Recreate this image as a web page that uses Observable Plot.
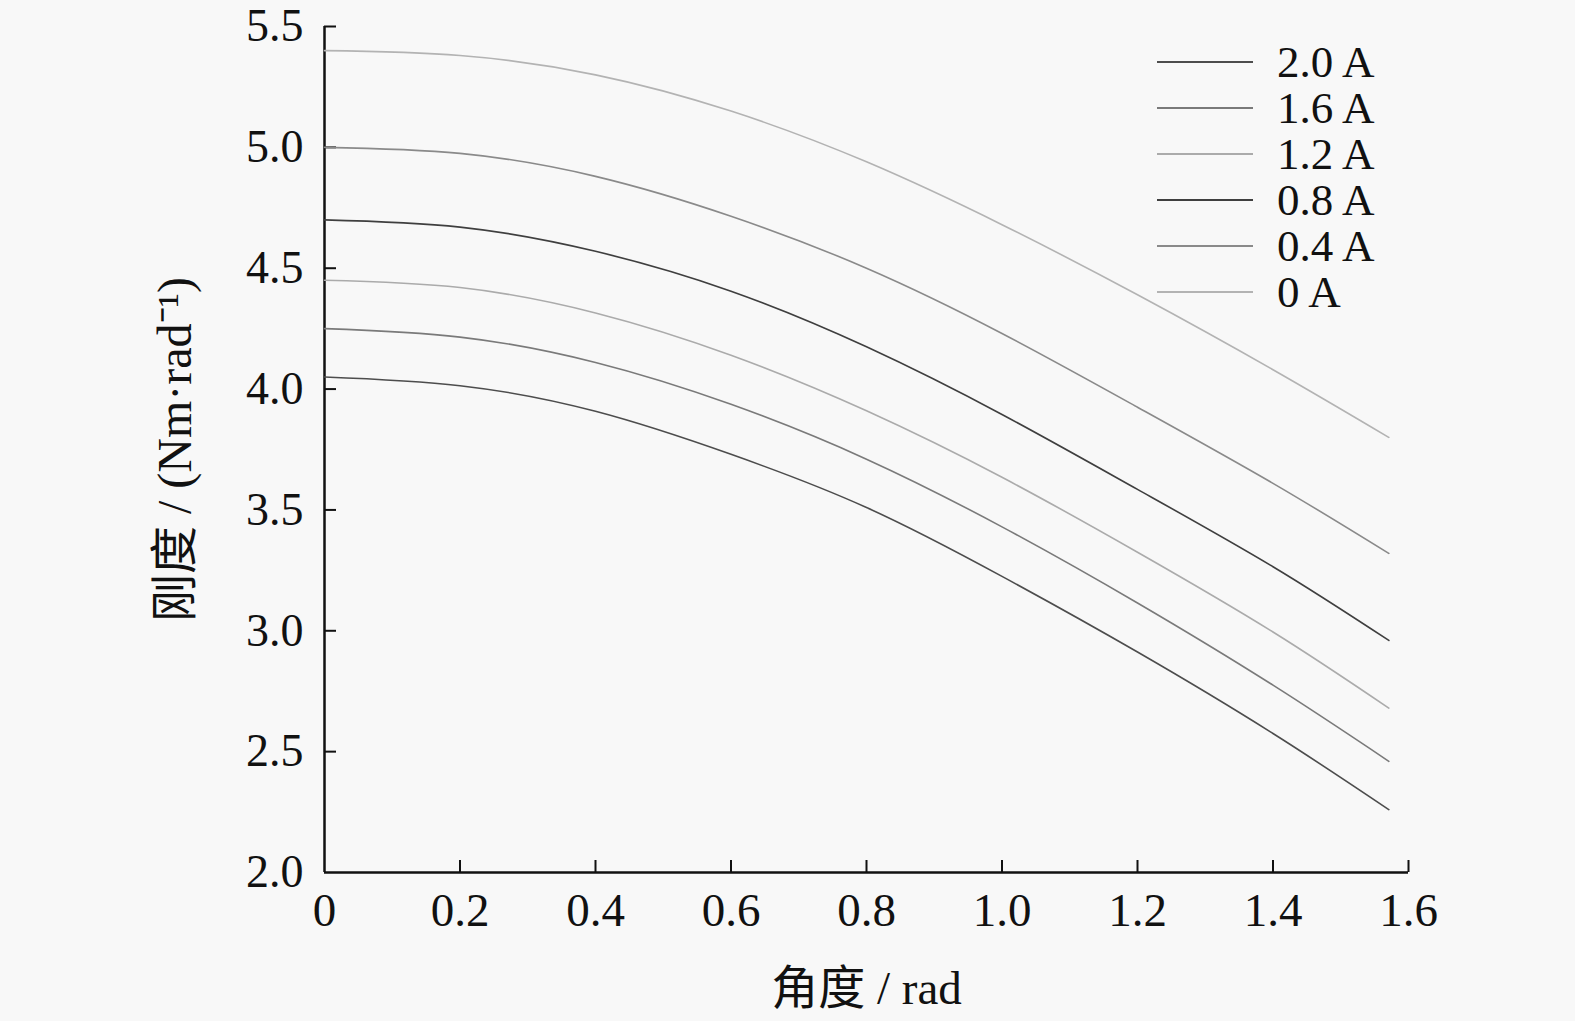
<!DOCTYPE html>
<html>
<head>
<meta charset="utf-8">
<script src="https://cdn.jsdelivr.net/npm/d3@7"></script>
<script src="https://cdn.jsdelivr.net/npm/@observablehq/plot@0.6"></script>
<style>
  html, body { margin: 0; padding: 0; background: #f8f8f8; }
  #wrap { position: relative; width: 1575px; height: 1021px; }
  #legend { position: absolute; left: 1157px; top: 39px; font-family: "Liberation Serif", "Noto Sans CJK SC", serif; font-size: 45px; line-height: 46px; color: #111; }
  .row { display: flex; align-items: center; height: 46px; }
  .sw { width: 96px; height: 0; border-top-style: solid; margin-right: 24px; }
</style>
</head>
<body>
<div id="wrap"><div id="legend"></div></div>
<script>
// angle (rad)
const angles = [0, 0.2, 0.4, 0.6, 0.8, 1.0, 1.2, 1.4, 1.571];
// stiffness (Nm/rad) for each coil current
const k_0A   = [5.40, 5.38, 5.30, 5.15, 4.94, 4.68, 4.39, 4.08, 3.80];
const k_04A  = [5.00, 4.975, 4.88, 4.715, 4.50, 4.23, 3.925, 3.61, 3.32];
const k_08A  = [4.70, 4.67, 4.57, 4.405, 4.175, 3.895, 3.585, 3.265, 2.96];
const k_12A  = [4.45, 4.42, 4.315, 4.14, 3.91, 3.635, 3.325, 2.995, 2.68];
const k_16A  = [4.25, 4.215, 4.11, 3.937, 3.71, 3.43, 3.115, 2.775, 2.46];
const k_20A  = [4.05, 4.014, 3.908, 3.73, 3.51, 3.225, 2.912, 2.575, 2.26];

const seriesNames = ["2.0 A", "1.6 A", "1.2 A", "0.8 A", "0.4 A", "0 A"];
const seriesValues = [k_20A, k_16A, k_12A, k_08A, k_04A, k_0A];
const seriesColors = ["#4d4d4d", "#7a7a7a", "#ababab", "#3f3f3f", "#8a8a8a", "#b3b3b3"];

const xTicks = [0, 0.2, 0.4, 0.6, 0.8, 1.0, 1.2, 1.4, 1.6];
const xTickLabels = ["0", "0.2", "0.4", "0.6", "0.8", "1.0", "1.2", "1.4", "1.6"];
const yTicks = [2.0, 2.5, 3.0, 3.5, 4.0, 4.5, 5.0, 5.5];
const xLabel = "角度 / rad";
const yLabel = "刚度 / (Nm·rad⁻¹)";

const data = [];
seriesNames.forEach((name, i) => {
  angles.forEach((a, j) => data.push({series: name, x: a, y: seriesValues[i][j]}));
});

const W = 1575, H = 1021;
const mL = 324, mR = 167, mT = 26, mB = 149;
const plotW = W - mL - mR, plotH = H - mT - mB;
const font = '"Liberation Serif", "Noto Sans CJK SC", serif';

const chart = Plot.plot({
  width: W, height: H,
  marginLeft: mL, marginRight: mR, marginTop: mT, marginBottom: mB,
  style: {background: "transparent", fontFamily: font, fontSize: "47px", color: "#111", overflow: "visible"},
  x: {domain: [0, 1.6]},
  y: {domain: [2.0, 5.5]},
  color: {domain: seriesNames, range: seriesColors},
  marks: [
    Plot.axisX(xTicks, {tickSize: 0, tickPadding: 20, tickFormat: (d, i) => xTickLabels[i], label: null, fontSize: 47}),
    Plot.axisY(yTicks, {tickSize: 0, tickPadding: 21, tickFormat: d => d.toFixed(1), label: null, fontSize: 46}),
    Plot.tickX(xTicks.slice(1), {x: d => d, insetTop: plotH - 12, stroke: "#111", strokeWidth: 2}),
    Plot.tickY(yTicks.slice(1), {y: d => d, insetRight: plotW - 12, stroke: "#111", strokeWidth: 2}),
    Plot.ruleY([2.0], {stroke: "#111", strokeWidth: 2.5}),
    Plot.ruleX([0], {stroke: "#111", strokeWidth: 2.5}),
    Plot.line(data, {x: "x", y: "y", z: "series", stroke: "series", strokeWidth: 1.6, curve: "natural"}),
    Plot.text([xLabel], {frameAnchor: "bottom", dy: 131, fontSize: 47, fill: "#111"}),
    Plot.text([yLabel], {frameAnchor: "left", dx: -149, rotate: -90, textAnchor: "middle", fontSize: 48, fill: "#111"})
  ]
});
document.getElementById("wrap").prepend(chart);
chart.style.position = "absolute";
chart.style.left = "0px";
chart.style.top = "0px";

const legend = document.getElementById("legend");
seriesNames.forEach((name, i) => {
  const row = document.createElement("div");
  row.className = "row";
  const sw = document.createElement("div");
  sw.className = "sw";
  sw.style.borderTopColor = seriesColors[i];
  sw.style.borderTopWidth = "2px";
  const t = document.createElement("span");
  t.textContent = name;
  row.appendChild(sw);
  row.appendChild(t);
  legend.appendChild(row);
});
</script>
</body>
</html>
